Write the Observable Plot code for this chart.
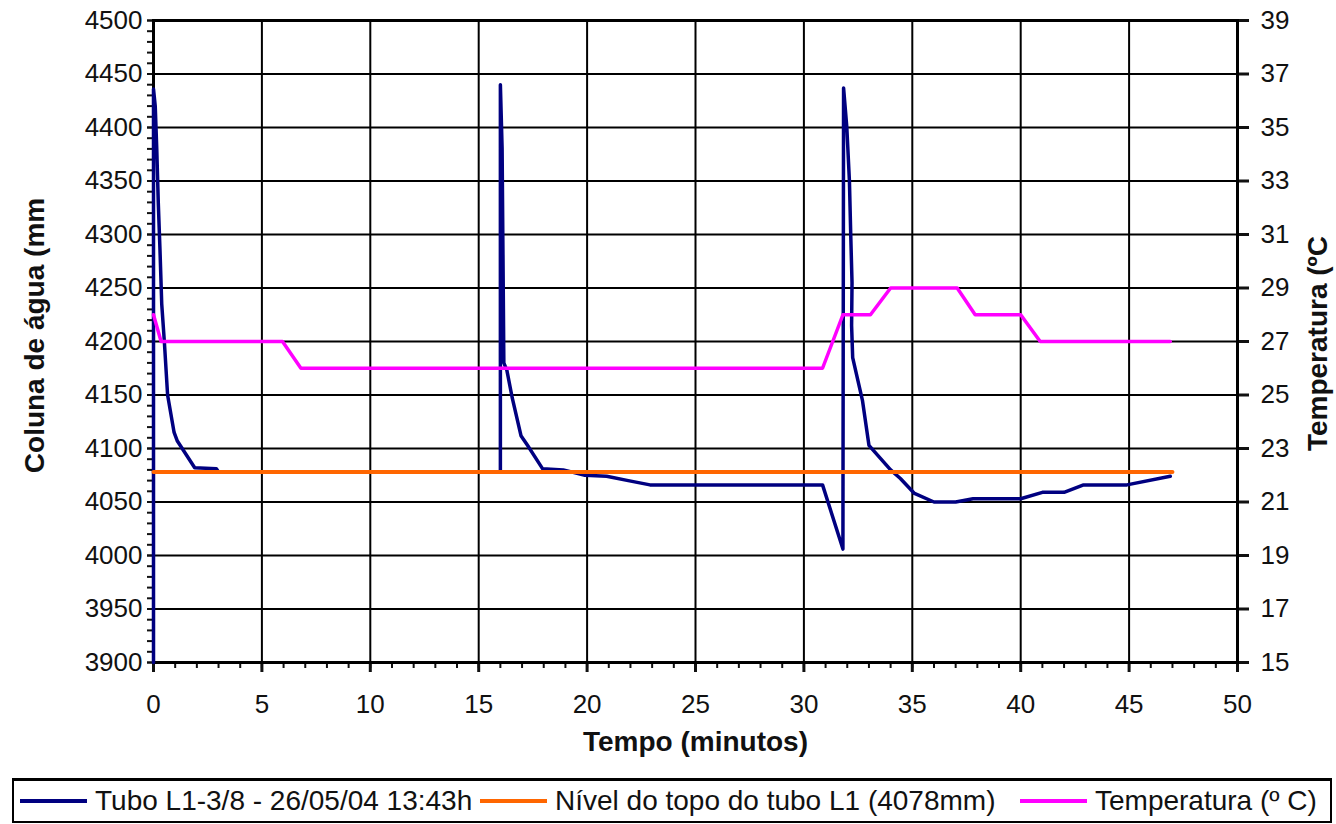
<!DOCTYPE html>
<html>
<head>
<meta charset="utf-8">
<script src="https://cdn.jsdelivr.net/npm/d3@7"></script>
<script src="https://cdn.jsdelivr.net/npm/@observablehq/plot@0.6"></script>
<style>
  html, body { margin: 0; padding: 0; background: #fff; }
  body { width: 1336px; height: 824px; position: relative; overflow: hidden; font-family: "Liberation Sans", Arial, sans-serif; }
  #chart { position: absolute; left: 0; top: 0; }
  #legend {
    position: absolute; left: 12px; top: 778px; width: 1316px; height: 40px;
    border: 2px solid #000; border-top-width: 3px; box-sizing: content-box;
    font-size: 28px; color: #111; white-space: nowrap;
  }
  .item { position: absolute; top: 0; height: 40px; display: flex; align-items: center; }
  .sw { display: inline-block; width: 67px; height: 4px; margin-right: 8px; }
</style>
</head>
<body>
<div id="chart"></div>
<div id="legend"></div>
<script>
// ---- data ----
const tuboTime = [0, 0, 0.08, 0.15, 0.22, 0.3, 0.38, 0.5, 0.65, 0.95, 1.1, 1.9, 2.9, 3.0,
  16.0, 16.0, 16.08, 16.16, 16.3, 16.55, 16.95, 17.25, 17.95, 18.9, 19.9, 20.9, 21.9, 22.9,
  30.86, 31.8, 31.83, 31.98, 32.1, 32.16, 32.22, 32.2, 32.25, 32.7, 33.0, 34.0, 34.45, 35.1,
  36.0, 37.0, 37.8, 40.0, 41.0, 42.0, 42.9, 44.9, 46.9];
const tuboMm = [3900, 4436, 4420, 4380, 4330, 4285, 4235, 4200, 4150, 4115, 4107, 4082, 4081, 4078,
  4078, 4440, 4380, 4180, 4173, 4147, 4112, 4103, 4081, 4080, 4075, 4074, 4070, 4066,
  4066, 4006, 4437, 4400, 4350, 4300, 4255, 4215, 4185, 4145, 4103, 4080, 4072, 4058,
  4050, 4050, 4053, 4053, 4059, 4059, 4066, 4066, 4074];

const levelTime = [0, 47];
const levelMm = [4078, 4078];

const tempTime = [0, 0.35, 5.95, 6.8, 30.86, 31.8, 33.07, 34.0, 37.07, 37.9, 40.0, 40.9, 46.9];
const tempC = [28, 27, 27, 26, 26, 28, 28, 29, 29, 28, 28, 27, 27];

const xTicks = d3.range(0, 51, 5);
const xMinor = d3.range(0, 51, 1);
const yTicks = d3.range(3900, 4501, 50);
const yMinor = d3.range(3900, 4501, 10);
const tTicks = d3.range(15, 40, 2);

const seriesNames = ["Tubo L1-3/8 - 26/05/04 13:43h", "Nível do topo do tubo L1 (4078mm)", "Temperatura (º C)"];
const seriesColors = ["#000080", "#FF6600", "#FF00FF"];

// temperature shares the mm scale: 15 °C ↔ 3900 mm, 39 °C ↔ 4500 mm
const toMm = t => 3900 + (t - 15) * 25;
const toC = m => (m - 3900) / 25 + 15;

const tubo = tuboTime.map((t, i) => ({t, v: tuboMm[i]}));
const level = levelTime.map((t, i) => ({t, v: levelMm[i]}));
const temp = tempTime.map((t, i) => ({t, c: tempC[i]}));

const plot = Plot.plot({
  width: 1336, height: 776,
  marginLeft: 153, marginRight: 99, marginTop: 20, marginBottom: 114,
  x: {domain: [0, 50], label: null},
  y: {domain: [3900, 4500], label: null},
  style: {fontFamily: "'Liberation Sans', Arial, sans-serif", fontSize: "26px", color: "#111", background: "#fff", overflow: "visible"},
  marks: [
    Plot.gridY(yTicks, {stroke: "#000", strokeOpacity: 1, strokeWidth: 2}),
    Plot.gridX(xTicks, {stroke: "#000", strokeOpacity: 1, strokeWidth: 2}),
    Plot.axisY(yMinor, {tickSize: 6, tickFormat: () => "", strokeWidth: 2, label: null}),
    Plot.axisY(yTicks, {tickSize: 6, tickPadding: 5, strokeWidth: 2, tickFormat: d => String(d), label: null}),
    Plot.axisY(tTicks.map(toMm), {anchor: "right", tickSize: 11, tickPadding: 12, strokeWidth: 3, tickFormat: d => String(Math.round(toC(d))), label: null}),
    Plot.axisX(xMinor, {tickSize: 6, tickFormat: () => "", strokeWidth: 2, label: null}),
    Plot.axisX(xTicks, {tickSize: 10, tickPadding: 22, strokeWidth: 3, tickFormat: d => String(d), label: null}),
    Plot.frame({stroke: "#000", strokeWidth: 3}),
    Plot.line(tubo, {x: "t", y: "v", stroke: seriesColors[0], strokeWidth: 3.5}),
    Plot.line(level, {x: "t", y: "v", stroke: seriesColors[1], strokeWidth: 4}),
    Plot.line(temp, {x: "t", y: d => toMm(d.c), stroke: seriesColors[2], strokeWidth: 3.5}),
    Plot.text(["Tempo (minutos)"], {frameAnchor: "bottom", textAnchor: "middle", dy: 88, fontWeight: "bold", fontSize: 28, fill: "#111"}),
    Plot.text(["Coluna de água (mm"], {frameAnchor: "left", textAnchor: "middle", dx: -118, dy: -6, rotate: -90, fontWeight: "bold", fontSize: 28, fill: "#111"}),
    Plot.text(["Temperatura (ºC"], {frameAnchor: "right", textAnchor: "middle", dx: 81, dy: 2, rotate: -90, fontWeight: "bold", fontSize: 28, fill: "#111"})
  ]
});
document.getElementById("chart").appendChild(plot);

const legend = document.getElementById("legend");
const itemLeft = [6, 466, 1006];
seriesNames.forEach((name, i) => {
  const item = document.createElement("span");
  item.className = "item";
  item.style.left = itemLeft[i] + "px";
  const sw = document.createElement("span");
  sw.className = "sw";
  sw.style.background = seriesColors[i];
  const label = document.createElement("span");
  label.textContent = name;
  item.appendChild(sw);
  item.appendChild(label);
  legend.appendChild(item);
});
</script>
</body>
</html>
